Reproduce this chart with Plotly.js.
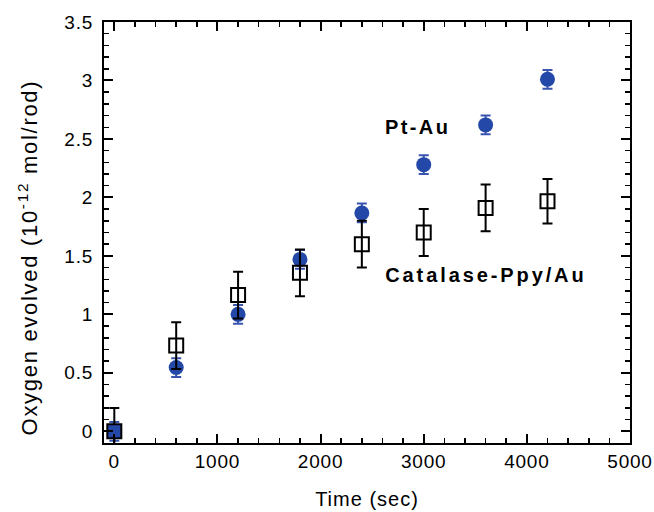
<!DOCTYPE html>
<html><head><meta charset="utf-8">
<script src="https://cdn.plot.ly/plotly-3.0.1.min.js"></script>
<style>
body{margin:0;background:#fff}#c{width:654px;height:512px}
#c .xtick text{letter-spacing:0.8px}
#c .ytick text{letter-spacing:0.8px}
#c .g-xtitle text{letter-spacing:1px}
#c .annotation[data-index="0"] .annotation-text{letter-spacing:2.4px}
#c .annotation[data-index="1"] .annotation-text{letter-spacing:2.9px}
#c .annotation[data-index="2"] .annotation-text{letter-spacing:1.7px}
</style>
</head><body><div id="c"></div>
<script>
const time = [0, 600, 1200, 1800, 2400, 3000, 3600, 4200];
const ptAu = [0, 0.545, 1.0, 1.47, 1.867, 2.28, 2.62, 3.01];
const ptAuErr = [0.08, 0.08, 0.08, 0.08, 0.08, 0.08, 0.08, 0.08];
const catalase = [0, 0.733, 1.165, 1.355, 1.6, 1.70, 1.91, 1.967];
const catalaseErr = [0.2, 0.2, 0.2, 0.2, 0.2, 0.2, 0.2, 0.19];
const squareFill = ['#2448a8', 'rgba(0,0,0,0)', 'rgba(0,0,0,0)', 'rgba(0,0,0,0)', 'rgba(0,0,0,0)', 'rgba(0,0,0,0)', 'rgba(0,0,0,0)', 'rgba(0,0,0,0)'];
const xTicks = [0, 1000, 2000, 3000, 4000, 5000];
const yTicks = [0, 0.5, 1, 1.5, 2, 2.5, 3, 3.5];
const yTickText = ['0', '0.5', '1', '1.5', '2', '2.5', '3', '3.5'];

const font = "Liberation Sans, Arial, Helvetica, sans-serif";
const traces = [
  {x: time, y: ptAu, type: 'scatter', mode: 'markers', name: 'Pt-Au',
   error_y: {type: 'data', array: ptAuErr, visible: true, color: '#3a55b0', thickness: 2, width: 5},
   marker: {symbol: 'circle', size: 15, color: '#2448a8', line: {width: 0}}},
  {x: time, y: catalase, type: 'scatter', mode: 'markers', name: 'Catalase-Ppy/Au',
   error_y: {type: 'data', array: catalaseErr, visible: true, color: '#000', thickness: 2, width: 5},
   marker: {symbol: 'square', size: 14, color: squareFill, line: {color: '#000', width: 2}}}
];
const axisCommon = {showline: true, linecolor: '#000', linewidth: 2, mirror: 'allticks',
  ticks: 'inside', ticklen: 9, tickwidth: 2, tickcolor: '#000', showgrid: false, zeroline: false,
  tickfont: {family: font, size: 19, color: '#000'}};
const layout = {
  width: 654, height: 512, margin: {l: 104, r: 24, t: 22, b: 69},
  paper_bgcolor: '#fff', plot_bgcolor: '#fff', showlegend: false,
  xaxis: Object.assign({}, axisCommon, {range: [-100, 5000], tickvals: xTicks,
    minor: {dtick: 200, tick0: 0, ticks: 'inside', ticklen: 5, tickwidth: 1.5, tickcolor: '#000'},
    title: {text: 'Time (sec)', font: {family: font, size: 20, color: '#000'}, standoff: 21}}),
  yaxis: Object.assign({}, axisCommon, {range: [-0.1, 3.5], tickvals: yTicks, ticktext: yTickText,
    ticklabelstandoff: 5,
    minor: {dtick: 0.1, tick0: 0, ticks: 'inside', ticklen: 5, tickwidth: 1.5, tickcolor: '#000'}}),
  annotations: [
    {x: 2935, y: 2.598, xref: 'x', yref: 'y', text: 'Pt-Au', showarrow: false, xanchor: 'center',
     font: {family: font, size: 20, color: '#000', weight: 'bold'}},
    {x: 3600, y: 1.336, xref: 'x', yref: 'y', text: 'Catalase-Ppy/Au', showarrow: false, xanchor: 'center',
     font: {family: font, size: 20, color: '#000', weight: 'bold'}},
    {x: -0.1445, y: 0.442, xref: 'paper', yref: 'paper', text: 'Oxygen evolved (10<sup>-12</sup> mol/rod)',
     textangle: -90, showarrow: false, xanchor: 'center', yanchor: 'middle',
     font: {family: font, size: 22, color: '#000'}}
  ]
};
Plotly.newPlot('c', traces, layout, {staticPlot: true, displayModeBar: false});
</script></body></html>
